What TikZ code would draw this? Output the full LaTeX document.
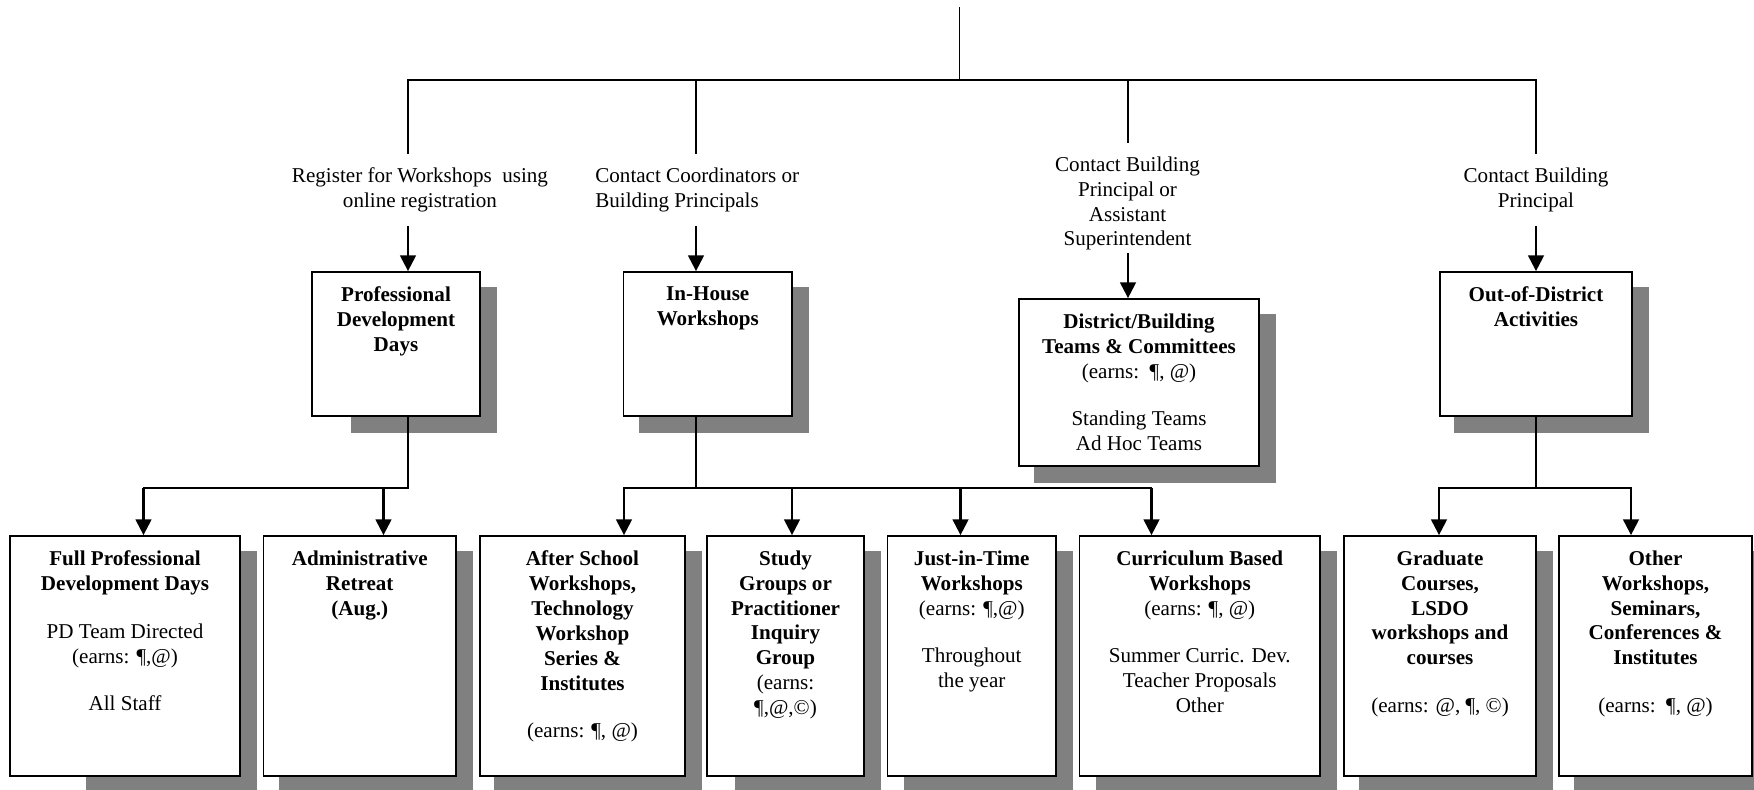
\documentclass[tikz,border=0pt]{standalone}
\usepackage{fontspec}
\setmainfont{Liberation Serif}
\usetikzlibrary{positioning,arrows.meta,backgrounds}

\newcommand{\hd}[1]{\textbf{#1}}

\begin{document}
\begin{tikzpicture}[
box/.style={rectangle,draw,line width=1pt,fill=white},
boxtext/.style={align=center,inner sep=0pt,font=\fontsize{12}{14.2}\selectfont},
route/.style={align=center,inner xsep=0pt,inner ysep=8pt,font=\fontsize{12}{14.2}\selectfont},
link/.style={line width=1.1pt,line cap=rect},
arr/.style={line width=1.3pt,-{Triangle[width=9pt,length=9pt]}}
]
\useasboundingbox (0,0) rectangle (35.08,15.8);

\coordinate (top) at (19.19,15.64);
\coordinate (hub) at (19.19,14.2);
\coordinate (c1) at (8.16,14.2);
\coordinate (c2) at (13.92,14.2);
\coordinate (c3) at (22.56,14.2);
\coordinate (c4) at (30.72,14.2);

% how to sign up
\node[route] (reg) at (8.4,12.01) {Register for Workshops\ \ using\\online registration};
\node[route,align=left,anchor=west] (coord) at (11.9,12.01) {Contact Coordinators or\\Building Principals};
\node[route] (dlab) at (22.55,11.73) {Contact Building\\Principal or\\Assistant\\Superintendent};
\node[route] (olab) at (30.72,12.01) {Contact Building\\Principal};

% second row
\node[box,minimum width=3.36cm,minimum height=2.88cm] (pdd) at (7.92,8.92) {};
\node[box,minimum width=3.37cm,minimum height=2.88cm] (inhouse) at (14.155,8.92) {};
\node[box,minimum width=4.8cm,minimum height=3.34cm] (district) at (22.78,8.15) {};
\node[box,minimum width=3.84cm,minimum height=2.88cm] (ood) at (30.72,8.92) {};

\node[boxtext,below=0.3cm of pdd.north] (pddtxt) {\hd{Professional}\\\hd{Development}\\\hd{Days}};
\node[boxtext,below=0.3cm of inhouse.north] (inhousetxt) {\hd{In-House}\\\hd{Workshops}};
\node[boxtext,below=0.3cm of district.north] (districttxt) {\hd{District/Building}\\\hd{Teams \& Committees}\\(earns:\ \ ¶, @)\\[13pt]Standing Teams\\Ad Hoc Teams};
\node[boxtext,below=0.3cm of ood.north] (oodtxt) {\hd{Out-of-District}\\\hd{Activities}};

% bottom row
\node[box,minimum width=4.6cm,minimum height=4.8cm] (fullpd) at (2.5,2.68) {};
\node[box,minimum width=3.85cm,minimum height=4.8cm] (admin) at (7.195,2.68) {};
\node[box,minimum width=4.1cm,minimum height=4.8cm] (after) at (11.65,2.68) {};
\node[box,minimum width=3.14cm,minimum height=4.8cm] (study) at (15.71,2.68) {};
\node[box,minimum width=3.37cm,minimum height=4.8cm] (jit) at (19.435,2.68) {};
\node[box,minimum width=4.81cm,minimum height=4.8cm] (curric) at (23.995,2.68) {};
\node[box,minimum width=3.84cm,minimum height=4.8cm] (grad) at (28.8,2.68) {};
\node[box,minimum width=3.86cm,minimum height=4.8cm] (other) at (33.11,2.68) {};

\node[boxtext,below=0.3cm of fullpd.north] (fullpdtxt) {\hd{Full Professional}\\\hd{Development Days}\\[13pt]PD Team Directed\\(earns: ¶,@)\\[13pt]All Staff};
\node[boxtext,below=0.3cm of admin.north] (admintxt) {\hd{Administrative}\\\hd{Retreat}\\\hd{(Aug.)}};
\node[boxtext,below=0.3cm of after.north] (aftertxt) {\hd{After School}\\\hd{Workshops,}\\\hd{Technology}\\\hd{Workshop}\\\hd{Series \&}\\\hd{Institutes}\\[13pt](earns: ¶, @)};
\node[boxtext,below=0.3cm of study.north] (studytxt) {\hd{Study}\\\hd{Groups or}\\\hd{Practitioner}\\\hd{Inquiry}\\\hd{Group}\\(earns:\\¶,@,©)};
\node[boxtext,below=0.3cm of jit.north] (jittxt) {\hd{Just-in-Time}\\\hd{Workshops}\\(earns: ¶,@)\\[13pt]Throughout\\the year};
\node[boxtext,below=0.3cm of curric.north] (currictxt) {\hd{Curriculum Based}\\\hd{Workshops}\\(earns: ¶, @)\\[13pt]Summer Curric. Dev.\\Teacher Proposals\\Other};
\node[boxtext,below=0.3cm of grad.north] (gradtxt) {\hd{Graduate}\\\hd{Courses,}\\\hd{LSDO}\\\hd{workshops and}\\\hd{courses}\\[13pt](earns: @, ¶, ©)};
\node[boxtext,below=0.3cm of other.north] (othertxt) {\hd{Other}\\\hd{Workshops,}\\\hd{Seminars,}\\\hd{Conferences \&}\\\hd{Institutes}\\[13pt](earns:\ \ ¶, @)};

% shadows
\begin{scope}[on background layer]
\foreach \nm/\sh in {pdd/0.8,inhouse/0.33,district/0.31,ood/0.3,fullpd/1.54,admin/0.33,after/0.3,study/0.58,jit/0.35,curric/0.35,grad/0.32,other/0.32}
  \fill[gray] ([xshift=\sh cm,yshift=-0.32cm]\nm.south west) rectangle ([xshift=0.32cm,yshift=-0.32cm]\nm.north east);
\end{scope}

% top of the tree
\draw[link] (top) -- (hub);
\draw[link] (c1) -- (c4);
\draw[link] (c1) -- (c1 |- reg.north);
\draw[link] (c2) -- (c2 |- coord.north);
\draw[link] (c3) -- (c3 |- dlab.north);
\draw[link] (c4) -- (c4 |- olab.north);
\draw[arr] (c1 |- reg.south) -- (c1 |- pdd.north);
\draw[arr] (c2 |- coord.south) -- (c2 |- inhouse.north);
\draw[arr] ([yshift=6.5pt]c3 |- dlab.south) -- (c3 |- district.north);
\draw[arr] (c4 |- olab.south) -- (c4 |- ood.north);

% branches to the bottom row
\coordinate (b1) at (8.16,6.04);
\coordinate (b2) at (13.92,6.04);
\coordinate (b3) at (30.72,6.04);
\coordinate (a1) at (2.87,6.04);
\coordinate (a2) at (7.67,6.04);
\coordinate (a3) at (12.48,6.04);
\coordinate (a4) at (15.84,6.04);
\coordinate (a5) at (19.21,6.04);
\coordinate (a6) at (23.03,6.04);
\coordinate (a7) at (28.78,6.04);
\coordinate (a8) at (32.62,6.04);

\draw[link] (b1 |- pdd.south) -- (b1) -- (a1);
\draw[link] (b2 |- inhouse.south) -- (b2);
\draw[link] (a3) -- (a6);
\draw[link] (b3 |- ood.south) -- (b3);
\draw[link] (a7) -- (a8);

\draw[arr] (a1) -- (a1 |- fullpd.north);
\draw[arr] (a2) -- (a2 |- admin.north);
\draw[arr] (a3) -- (a3 |- after.north);
\draw[arr] (a4) -- (a4 |- study.north);
\draw[arr] (a5) -- (a5 |- jit.north);
\draw[arr] (a6) -- (a6 |- curric.north);
\draw[arr] (a7) -- (a7 |- grad.north);
\draw[arr] (a8) -- (a8 |- other.north);
\end{tikzpicture}
\end{document}
